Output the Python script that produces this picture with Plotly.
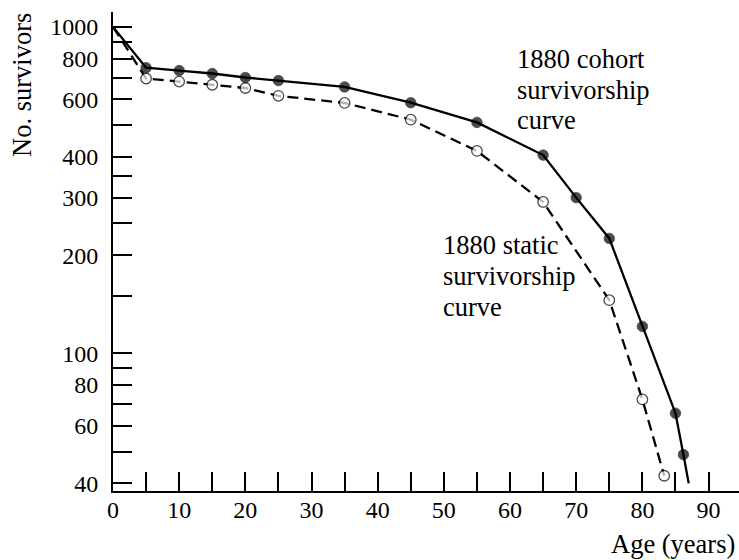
import plotly.graph_objects as go

# Ages (years) and numbers of survivors
cohort_age = [0, 5, 10, 15, 20, 25, 35, 45, 55, 65, 70, 75, 80, 85, 86.2, 87]
cohort_survivors = [1000, 750, 735, 720, 700, 685, 655, 586, 510, 405, 300, 225, 121, 65.6, 49, 40]

static_age = [0, 5, 10, 15, 20, 25, 35, 45, 55, 65, 75, 80, 83.3]
static_survivors = [1000, 695, 680, 665, 650, 615, 585, 520, 417, 291, 145.6, 72.3, 42.2]

x_tickvals = [0, 5, 10, 15, 20, 25, 30, 35, 40, 45, 50, 55, 60, 65, 70, 75, 80, 85, 90]
x_ticktext = ["0", "", "10", "", "20", "", "30", "", "40", "", "50", "", "60", "", "70", "", "80", "", "90"]

y_tickvals = [40, 50, 60, 70, 80, 90, 100, 150, 200, 250, 300, 350, 400, 500, 600, 700, 800, 900, 1000]
y_ticktext = ["40", "", "60", "", "80", "", "100", "", "200", "", "300", "", "400", "", "600", "", "800", "", "1000"]

cohort_label = ["1880 cohort", "survivorship", "curve"]
static_label = ["1880 static", "survivorship", "curve"]

FONT = "Liberation Serif"

# figure geometry (pixels)
W, H = 739, 560
ML, MR, MT, MB = 113, 0, 12, 69
PW, PH = W - ML - MR, H - MT - MB


def px_x(x):
    return (x - ML) / PW


def px_y(y):
    return (H - MB - y) / PH


fig = go.Figure()
fig.add_trace(go.Scatter(
    x=static_age, y=static_survivors, mode="lines+markers",
    line=dict(color="black", width=2.3, dash="11px,6px"),
    marker=dict(size=[0] + [10.5] * (len(static_age) - 1), color="white",
                line=dict(color="black", width=1.3)),
    showlegend=False, cliponaxis=False,
))
fig.add_trace(go.Scatter(
    x=cohort_age, y=cohort_survivors, mode="lines+markers",
    line=dict(color="black", width=2.3),
    marker=dict(size=[0] + [10.5] * (len(cohort_age) - 2) + [0], color="black",
                line=dict(color="black", width=0.8)),
    showlegend=False, cliponaxis=False,
))

annotations = []
for i, t in enumerate(cohort_label):
    annotations.append(dict(text=t, x=px_x(515), y=px_y(58.5 + 31 * i), xref="paper", yref="paper",
                            xanchor="left", yanchor="middle", showarrow=False, font=dict(size=26.5)))
for i, t in enumerate(static_label):
    annotations.append(dict(text=t, x=px_x(441), y=px_y(245.3 + 31 * i), xref="paper", yref="paper",
                            xanchor="left", yanchor="middle", showarrow=False, font=dict(size=26.5)))
annotations.append(dict(text="Age (years)", x=px_x(737), y=px_y(544), xref="paper", yref="paper",
                        showarrow=False, font=dict(size=26.5), xanchor="right", yanchor="middle"))
annotations.append(dict(text="No. survivors", x=px_x(22), y=px_y(85), xref="paper", yref="paper",
                        showarrow=False, font=dict(size=26.5), textangle=-90,
                        xanchor="center", yanchor="middle"))

fig.update_layout(
    width=W, height=H,
    margin=dict(l=ML, r=MR, t=MT, b=MB, autoexpand=False),
    paper_bgcolor="white", plot_bgcolor="white",
    font=dict(family=FONT, size=24, color="black"),
    xaxis=dict(
        range=[0, 94.6], tickmode="array", tickvals=x_tickvals, ticktext=x_ticktext,
        ticks="inside", ticklen=19, tickwidth=2, tickcolor="black",
        showline=True, linewidth=2, linecolor="black",
        showgrid=False, zeroline=False, ticklabelstandoff=-4,
    ),
    yaxis=dict(
        type="log", range=[1.5786, 3.0457], tickmode="array",
        tickvals=y_tickvals, ticktext=y_ticktext,
        ticks="inside", ticklen=19, tickwidth=2, tickcolor="black",
        showline=True, linewidth=2, linecolor="black",
        showgrid=False, zeroline=False, ticklabelstandoff=8,
    ),
    annotations=annotations,
)

fig.write_html("out.html", config={"displayModeBar": False},
               post_script="document.body.style.margin='0';")
